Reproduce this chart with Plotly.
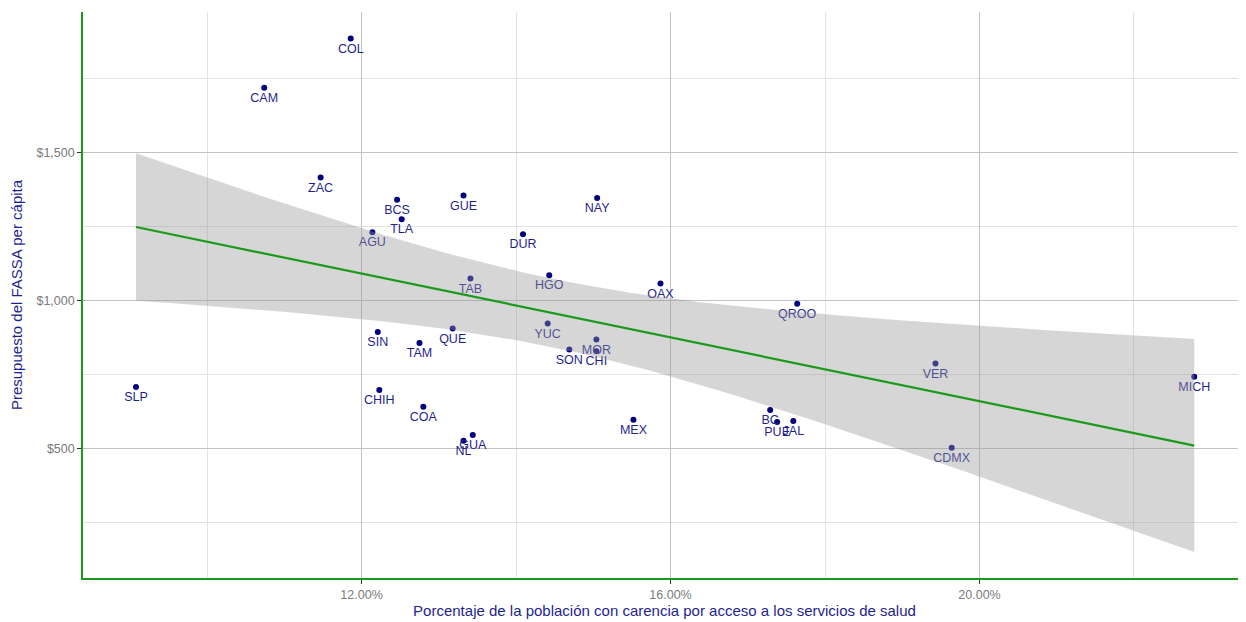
import numpy as np
import plotly.graph_objects as go

# Data
estados = ["COL", "CAM", "ZAC", "BCS", "TLA", "AGU", "GUE", "NAY", "DUR", "TAB",
           "HGO", "OAX", "YUC", "SIN", "QUE", "TAM", "SON", "MOR", "CHI", "CHIH",
           "COA", "GUA", "NL", "MEX", "BC", "PUE", "JAL", "CDMX", "VER", "MICH",
           "SLP", "QROO"]
carencia = [11.86, 10.74, 11.47, 12.46, 12.52, 12.14, 13.32, 15.05, 14.09, 13.41,
            14.43, 15.87, 14.41, 12.21, 13.18, 12.75, 14.69, 15.04, 15.04, 12.23,
            12.80, 13.44, 13.32, 15.52, 17.29, 17.38, 17.59, 19.64, 19.43, 22.78,
            9.08, 17.64]
fassa = [1886, 1720, 1416, 1341, 1275, 1231, 1355, 1347, 1224, 1074,
         1085, 1057, 922, 893, 905, 856, 834, 868, 828, 697,
         640, 545, 525, 596, 629, 589, 592, 502, 787, 742,
         707, 989]

x_ticks = [12, 16, 20]
x_tick_labels = ["12.00%", "16.00%", "20.00%"]
y_ticks = [500, 1000, 1500]
y_tick_labels = ["$500", "$1,000", "$1,500"]

# Linear fit with 95% confidence band (like geom_smooth(method="lm"))
x = np.array(carencia, dtype=float)
y = np.array(fassa, dtype=float)
n = len(x)
b1, b0 = np.polyfit(x, y, 1)
resid = y - (b0 + b1 * x)
s = np.sqrt(np.sum(resid ** 2) / (n - 2))
xm = x.mean()
sxx = np.sum((x - xm) ** 2)
t_crit = 2.042  # t(0.975, df=30)
xg = np.linspace(x.min(), x.max(), 80)
yg = b0 + b1 * xg
se = s * np.sqrt(1.0 / n + (xg - xm) ** 2 / sxx)
upper = yg + t_crit * se
lower = yg - t_crit * se

navy = "#000080"
text_navy = "#1f1f8f"
green = "#1a9a1a"

fig = go.Figure()
fig.add_trace(go.Scatter(
    x=carencia, y=fassa, mode="markers+text", text=estados,
    textposition="bottom center",
    textfont=dict(family="Liberation Sans, Arial, sans-serif", size=12.5, color=text_navy),
    marker=dict(size=6, color=navy), hoverinfo="text", showlegend=False))
fig.add_trace(go.Scatter(
    x=np.concatenate([xg, xg[::-1]]), y=np.concatenate([upper, lower[::-1]]),
    fill="toself", fillcolor="rgba(153,153,153,0.4)", line=dict(width=0),
    mode="lines", hoverinfo="skip", showlegend=False))
fig.add_trace(go.Scatter(
    x=xg, y=yg, mode="lines", line=dict(color=green, width=2.2),
    hoverinfo="skip", showlegend=False))

# page body has an 8px margin, so the figure is sized to end at the window edge
fig.update_layout(
    width=1238, height=614,
    margin=dict(l=75, r=0, t=4, b=44, autoexpand=False),
    plot_bgcolor="white", paper_bgcolor="white",
    font=dict(family="Liberation Sans, Arial, sans-serif"),
)
fig.update_xaxes(
    range=[8.394, 23.45], tickmode="array", tickvals=x_ticks, ticktext=x_tick_labels,
    showgrid=True, gridcolor="#c2c2c2", gridwidth=1,
    minor=dict(tickvals=[10, 14, 18, 22], showgrid=True, gridcolor="#e2e2e2", gridwidth=1),
    showline=True, linecolor=green, linewidth=1.6,
    ticks="outside", ticklen=4, tickcolor="#333333", tickwidth=1,
    tickfont=dict(size=12.5, color="#7a7a7a"),
    zeroline=False, automargin=False,
    title=dict(text="Porcentaje de la población con carencia por acceso a los servicios de salud",
               font=dict(size=15, color=text_navy), standoff=3),
)
fig.update_yaxes(
    range=[61, 1976], tickmode="array", tickvals=y_ticks, ticktext=y_tick_labels,
    showgrid=True, gridcolor="#c2c2c2", gridwidth=1.3,
    minor=dict(tickvals=[250, 750, 1250, 1750], showgrid=True, gridcolor="#e2e2e2", gridwidth=1),
    showline=True, linecolor=green, linewidth=1.6,
    ticks="outside", ticklen=4, tickcolor="#333333", tickwidth=1,
    tickfont=dict(size=12.5, color="#7a7a7a"),
    zeroline=False, automargin=False,
    title=dict(text="Presupuesto del FASSA per cápita",
               font=dict(size=15, color=text_navy), standoff=10),
)

fig.write_html("out.html")
